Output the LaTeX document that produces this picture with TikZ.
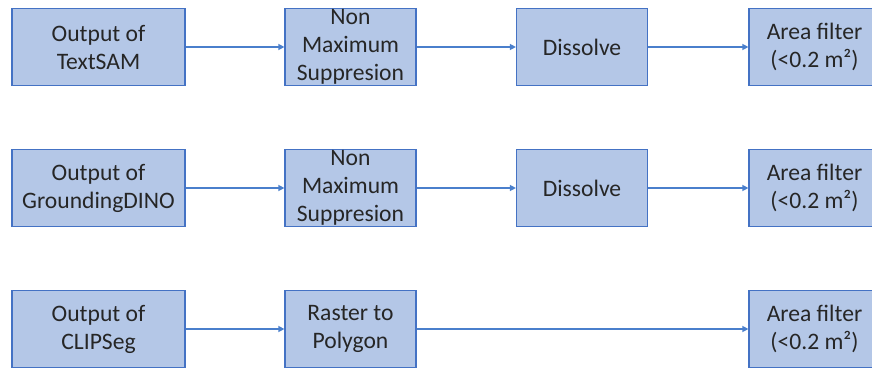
\documentclass[tikz,border=0pt]{standalone}
\usepackage{fontspec}
\setmainfont{Carlito}
\usetikzlibrary{arrows.meta}
\definecolor{boxfill}{HTML}{B4C7E7}
\definecolor{boxline}{HTML}{4472C4}
\definecolor{arrowcol}{HTML}{4A7FCC}
\begin{document}
\begin{tikzpicture}[x=1pt,y=1pt,
  stage/.style={draw=boxline, line width=1.2pt, fill=boxfill, minimum height=77pt,
    inner sep=0pt, align=center, text=black!85, font=\fontsize{23.6}{28}\selectfont},
  wide/.style={stage, minimum width=173pt},
  narrow/.style={stage, minimum width=131pt},
  flow/.style={draw=arrowcol, line width=1.3pt, -{Triangle[length=6pt,width=6pt]}}]
\clip (0,0) rectangle (872,370);
\useasboundingbox (0,0) rectangle (872,370);
% row 1
\node[wide]   (a1) at (98.5,323) {Output of\\TextSAM};
\node[narrow] (b1) at (350.5,323) {Non\\Maximum\\Suppresion};
\node[narrow] (c1) at (582,323) {Dissolve};
\node[narrow] (d1) at (814.5,323) {Area filter\\(<0.2 m²)};
% row 2
\node[wide]   (a2) at (98.5,182) {Output of\\GroundingDINO};
\node[narrow] (b2) at (350.5,182) {Non\\Maximum\\Suppresion};
\node[narrow] (c2) at (582,182) {Dissolve};
\node[narrow] (d2) at (814.5,182) {Area filter\\(<0.2 m²)};
% row 3
\node[wide]   (a3) at (98.5,41) {Output of\\CLIPSeg};
\node[narrow] (b3) at (350.5,41) {Raster to\\Polygon};
\node[narrow] (d3) at (814.5,41) {Area filter\\(<0.2 m²)};
% arrows
\draw[flow] (a1) -- (b1);
\draw[flow] (b1) -- (c1);
\draw[flow] (c1) -- (d1);
\draw[flow] (a2) -- (b2);
\draw[flow] (b2) -- (c2);
\draw[flow] (c2) -- (d2);
\draw[flow] (a3) -- (b3);
\draw[flow] (b3) -- (d3);
\end{tikzpicture}
\end{document}
